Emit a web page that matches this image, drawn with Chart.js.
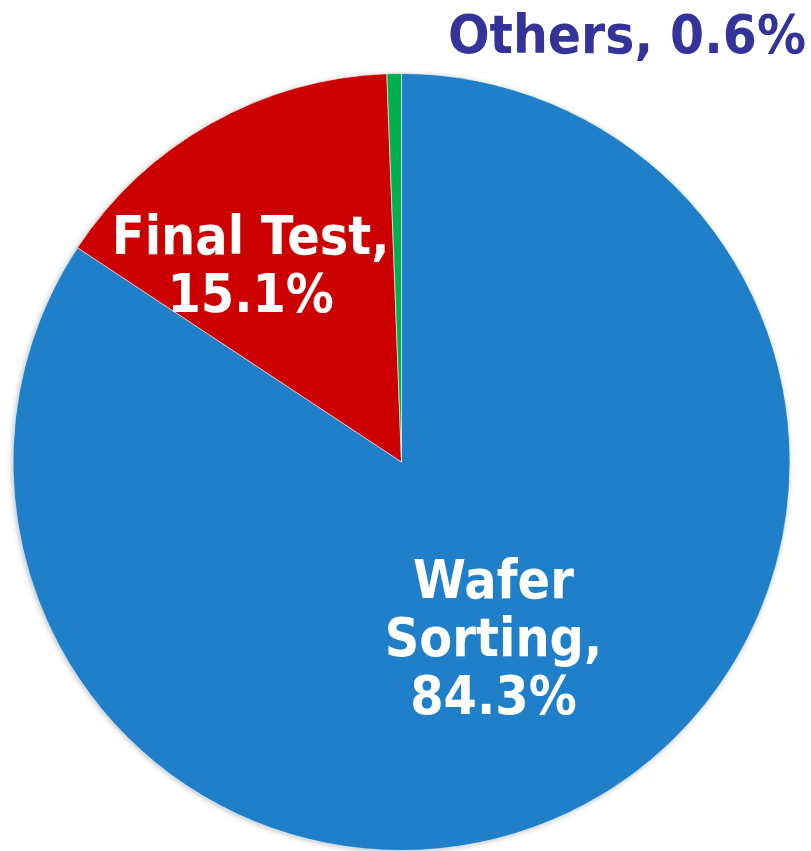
<!DOCTYPE html>
<html>
<head>
<meta charset="utf-8">
<script src="https://cdn.jsdelivr.net/npm/chart.js@4.4.1/dist/chart.umd.min.js"></script>
<style>
    html, body { margin: 0; padding: 0; background: #ffffff; }
    #wrap { width: 811px; height: 851px; position: relative; }
</style>
</head>
<body>
<div id="wrap"><canvas id="pieChart"></canvas></div>
<script>
const categories = ['Wafer Sorting', 'Final Test', 'Others'];
const shares = [84.3, 15.1, 0.6];
const sliceColors = ['#1f7fc9', '#cc0000', '#00b050'];

// label placement: [angle offset from slice middle (deg), distance as part of radius]
const labelSpots = [[0.6, 0.51], [-8, 0.64]];

function stretchedText(ctx, t, x, y, sy) {
    ctx.save();
    ctx.translate(x, y);
    ctx.scale(1, sy);
    ctx.fillText(t, 0, 0);
    ctx.restore();
}

const pieShadow = {
    id: 'pieShadow',
    beforeDatasetsDraw(chart) {
        const a = chart.getDatasetMeta(0).data[0];
        const ctx = chart.ctx;
        ctx.save();
        ctx.shadowColor = 'rgba(0,0,0,0.35)';
        ctx.shadowBlur = 6;
        ctx.shadowOffsetX = -1;
        ctx.shadowOffsetY = 1;
        ctx.fillStyle = '#1f7fc9';
        ctx.beginPath();
        ctx.arc(a.x, a.y, a.outerRadius - 1, 0, Math.PI * 2);
        ctx.fill();
        ctx.restore();
    }
};

const sliceLabels = {
    id: 'sliceLabels',
    afterDatasetsDraw(chart) {
        const ctx = chart.ctx;
        const arcs = chart.getDatasetMeta(0).data;
        ctx.save();
        ctx.textAlign = 'center';
        ctx.textBaseline = 'alphabetic';
        ctx.font = 'bold 48px "DejaVu Sans", Verdana, sans-serif';
        ctx.fillStyle = '#ffffff';

        let lines = [['Wafer', 'Sorting,', shares[0].toFixed(1) + '%'],
                     ['Final Test,', shares[1].toFixed(1) + '%']];
        lines.forEach((txt, i) => {
            const a = arcs[i];
            const mid = (a.startAngle + a.endAngle) / 2 + labelSpots[i][0] * Math.PI / 180;
            const r = a.outerRadius * labelSpots[i][1];
            const cx = a.x + Math.cos(mid) * r;
            const cy = a.y + Math.sin(mid) * r;
            const lh = 58;
            txt.forEach((t, k) => {
                const y = cy + (k - (txt.length - 1) / 2) * lh + 19;
                stretchedText(ctx, t, cx, y, 1.1);
            });
        });

        // small slice label sits outside, top right
        ctx.font = 'bold 49px "DejaVu Sans", Verdana, sans-serif';
        ctx.fillStyle = '#333399';
        ctx.textAlign = 'right';
        stretchedText(ctx, categories[2] + ', ' + shares[2].toFixed(1) + '%', 806, 53, 1.08);
        ctx.restore();
    }
};

document.addEventListener('DOMContentLoaded', function () {
    let ctx = document.getElementById('pieChart').getContext('2d');
    new Chart(ctx, {
        type: 'pie',
        data: {
            labels: categories,
            datasets: [{
                data: shares,
                backgroundColor: sliceColors,
                borderColor: 'rgba(255,255,255,0.6)',
                borderWidth: 1
            }]
        },
        options: {
            responsive: true,
            maintainAspectRatio: false,
            animation: false,
            layout: { padding: { left: 12, right: 20, top: 73, bottom: 0 } },
            plugins: {
                legend: { display: false },
                tooltip: { enabled: false }
            }
        },
        plugins: [pieShadow, sliceLabels]
    });
});
</script>
</body>
</html>
